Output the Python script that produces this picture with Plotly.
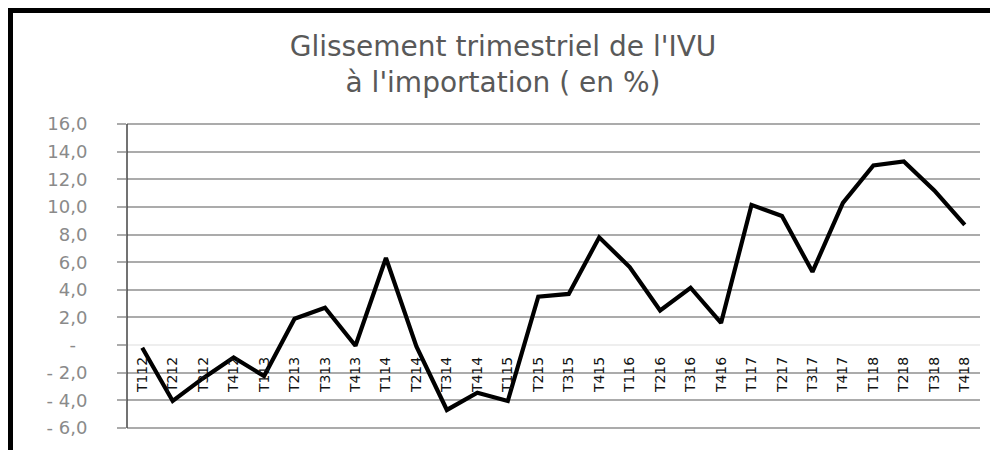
import plotly.graph_objects as go

categories = ["T112", "T212", "T312", "T412", "T113", "T213", "T313", "T413",
              "T114", "T214", "T314", "T414", "T115", "T215", "T315", "T415",
              "T116", "T216", "T316", "T416", "T117", "T217", "T317", "T417",
              "T118", "T218", "T318", "T418"]
values = [-0.2, -4.05, -2.4, -0.9, -2.25, 1.9, 2.7, -0.05,
          6.3, -0.1, -4.7, -3.45, -4.05, 3.5, 3.7, 7.8,
          5.65, 2.5, 4.15, 1.6, 10.15, 9.35, 5.3, 10.3,
          13.0, 13.3, 11.2, 8.7]
ytick_vals = [-6, -4, -2, 0, 2, 4, 6, 8, 10, 12, 14, 16]
ytick_text = ["- 6,0", "- 4,0", "- 2,0", "-\u00a0\u00a0", "2,0", "4,0", "6,0",
              "8,0", "10,0", "12,0", "14,0", "16,0"]
title_text = "Glissement trimestriel de l'IVU<br>à l'importation ( en %)"

# page body has an 8px margin: figure is placed at (8, 8) in the window
OFF = 8
W, H = 998 - OFF, 450 - OFF
ML, MR, MT, MB = 127 - OFF, 18, 123 - OFF, 21
YMIN, YMAX = -6.08, 16.08
pw, ph = W - ML - MR, H - MT - MB


def px_x(x):
    return (x - OFF - ML) / pw


def px_y(y):
    return (H - MB - (y - OFF)) / ph


fig = go.Figure()
fig.add_trace(go.Scatter(
    x=categories, y=values, mode="lines",
    line=dict(color="black", width=4.2),
    showlegend=False, hoverinfo="skip",
))

fig.update_layout(
    width=W, height=H,
    margin=dict(l=ML, r=MR, t=MT, b=MB),
    paper_bgcolor="white", plot_bgcolor="white",
    font=dict(family="DejaVu Sans"),
    title=dict(text=title_text, x=0.5, xref="container", xanchor="center",
               y=1 - 48 / H, yref="container", yanchor="top",
               font=dict(size=28, color="#595959", family="DejaVu Sans")),
    xaxis=dict(
        type="category", range=[-0.5, len(categories) - 0.5],
        anchor="free", position=(0 - YMIN) / (YMAX - YMIN),
        showgrid=False, showline=False, zeroline=False,
        ticks="", tickangle=-90, ticklabelstandoff=8,
        tickfont=dict(size=14, color="#111111", family="DejaVu Sans"),
    ),
    yaxis=dict(
        range=[YMIN, YMAX], tickvals=ytick_vals, ticktext=ytick_text,
        showgrid=True, gridcolor="#ababab", gridwidth=2.2,
        zeroline=True, zerolinecolor="#eeeeee", zerolinewidth=2,
        showline=False,
        ticks="outside", ticklen=9, tickcolor="#ababab", tickwidth=2.2,
        ticklabelstandoff=26,
        tickfont=dict(size=18, color="#8a8a8a", family="DejaVu Sans"),
    ),
    shapes=[
        dict(type="line", xref="paper", yref="y",
             x0=0, x1=0, y0=-6, y1=16,
             line=dict(color="#444444", width=1.5)),
        dict(type="line", xref="paper", yref="paper",
             x0=px_x(8), x1=px_x(1010), y0=px_y(10.5), y1=px_y(10.5),
             line=dict(color="black", width=5)),
        dict(type="line", xref="paper", yref="paper",
             x0=px_x(10.5), x1=px_x(10.5), y0=px_y(8), y1=px_y(460),
             line=dict(color="black", width=5)),
    ],
)

fig.write_html("out.html")
